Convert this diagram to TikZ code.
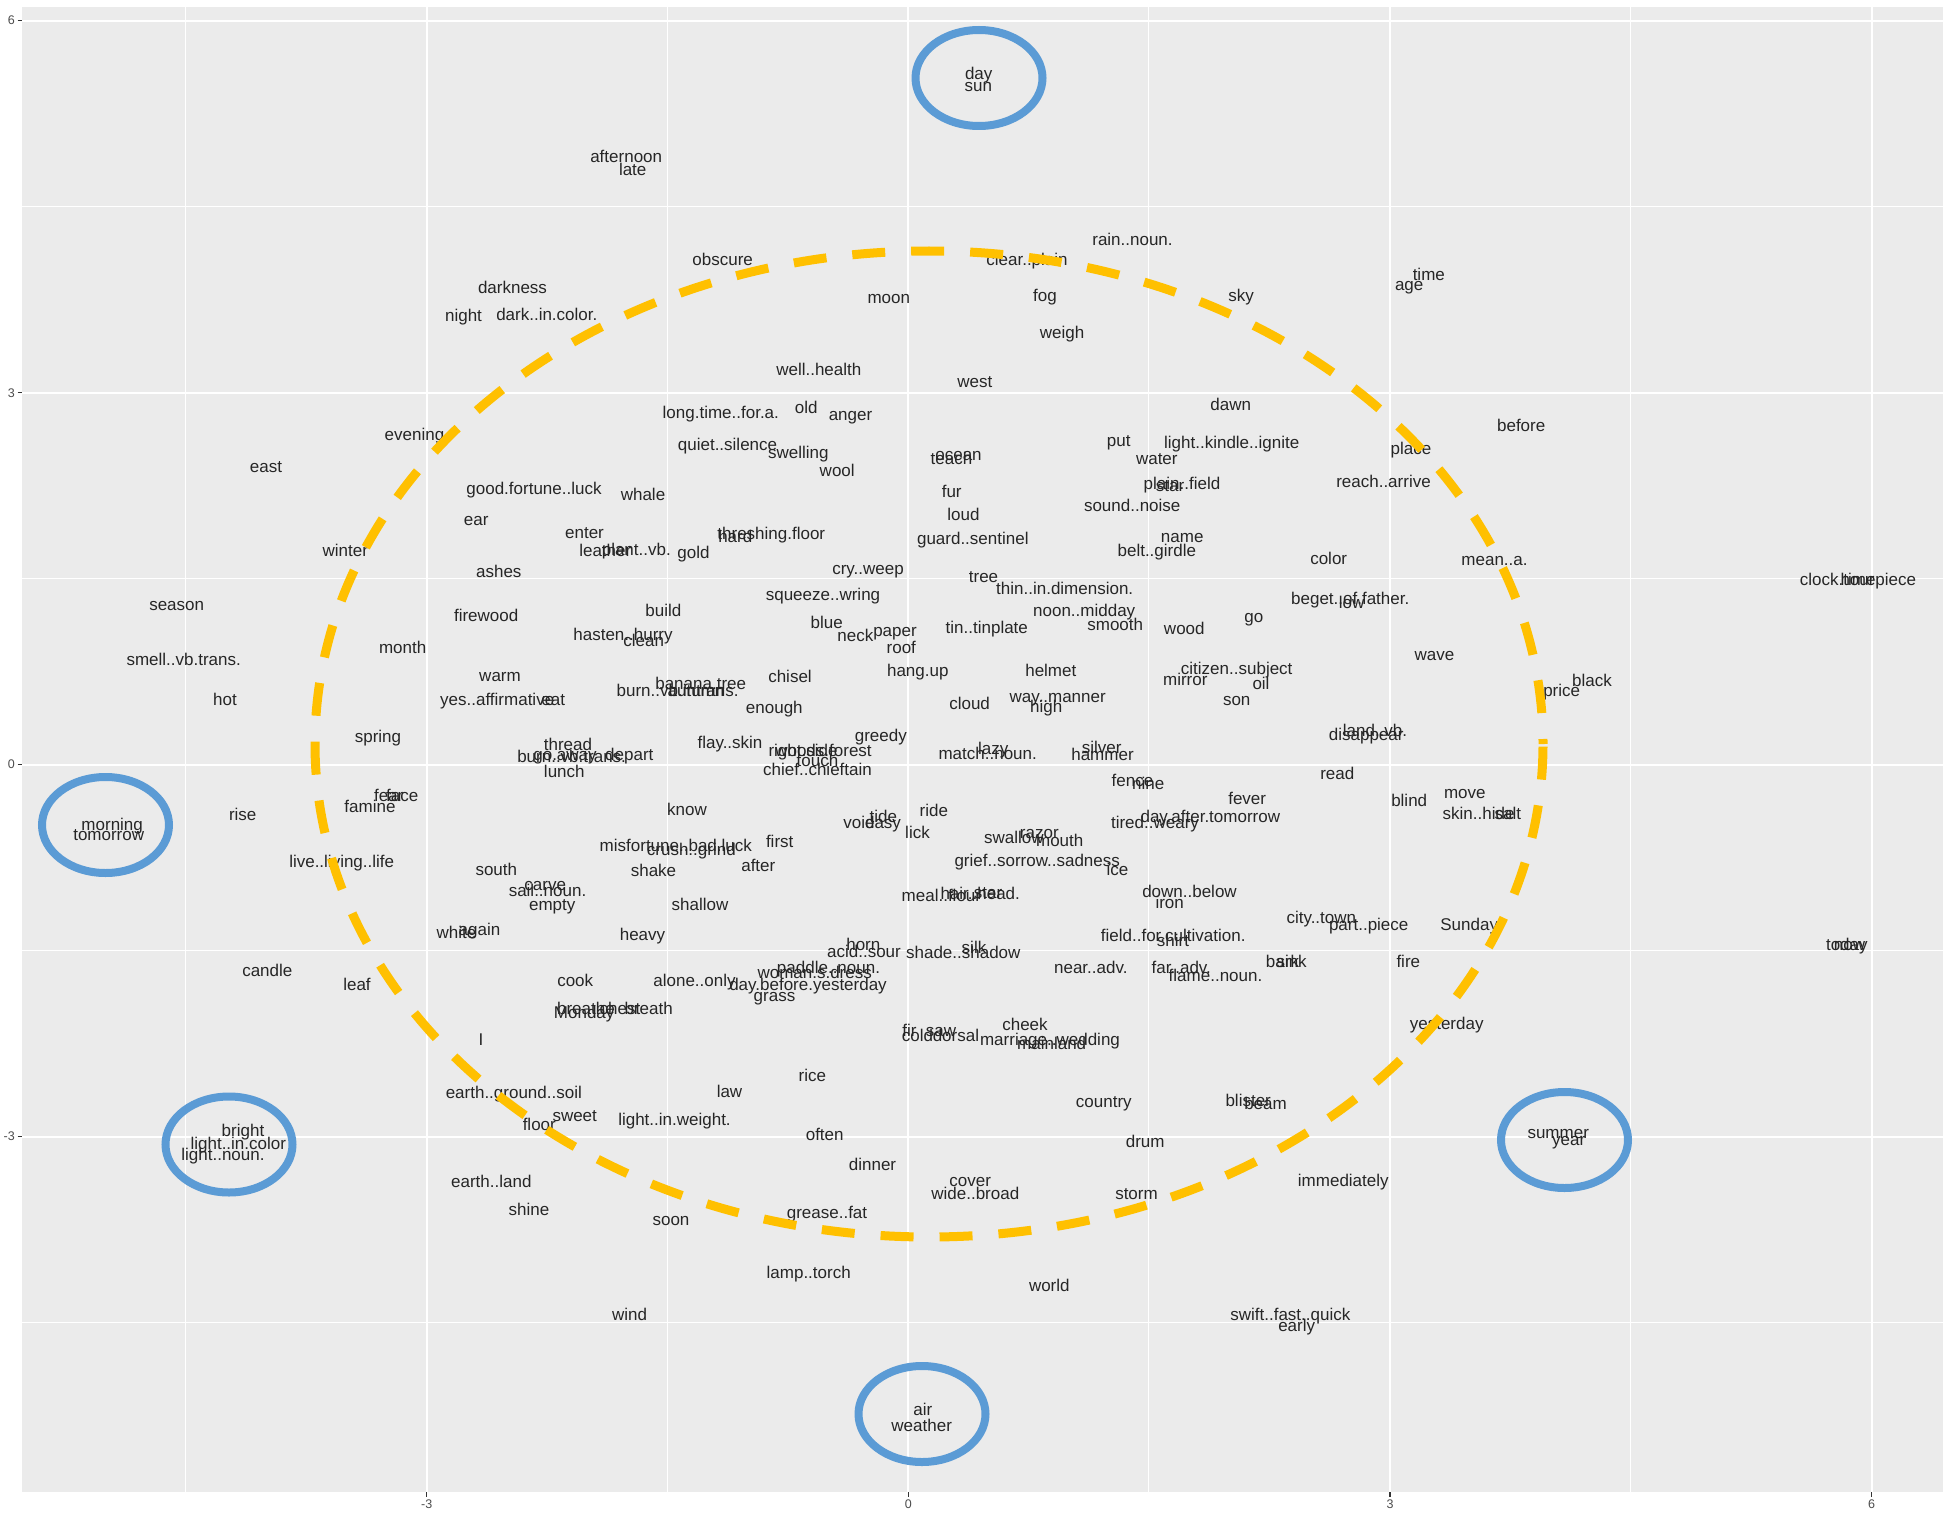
\documentclass[tikz,border=0pt]{standalone}
\usepackage{fontspec}
\setmainfont{Liberation Sans}
\definecolor{panelgray}{HTML}{EBEBEB}
\definecolor{ringorange}{HTML}{FFC000}
\definecolor{haloblue}{HTML}{5B9BD5}
\definecolor{axisgray}{HTML}{4D4D4D}
\definecolor{tickgray}{HTML}{333333}
\begin{document}
\begin{tikzpicture}[x=1pt,y=-1pt,
  wd/.style={anchor=base,inner sep=0pt,font=\fontsize{17}{20}\selectfont,text=black!85},
  ticklab/.style={inner sep=0pt,font=\fontsize{12.5}{14}\selectfont,text=axisgray},
  majorgrid/.style={white,line width=2pt},
  minorgrid/.style={white,line width=1pt},
  tickmark/.style={tickgray,line width=1.1pt},
  ring/.style={draw=ringorange,line width=9pt,dash pattern=on 33pt off 26pt,dash phase=28pt},
  halo/.style={draw=haloblue,line width=8pt}]
\useasboundingbox (0,0) rectangle (1943,1514);
\fill[white] (0,0) rectangle (1943,1514);
% plotting panel
\fill[panelgray] (22,7) rectangle (1943,1492);
\foreach \gx in {185.3,667.7,1148.3,1630.7} \draw[minorgrid] (\gx,7) -- (\gx,1492);
\foreach \gy in {206.5,578.5,950.5,1322.5} \draw[minorgrid] (22,\gy) -- (1943,\gy);
\foreach \gx in {426.7,908.3,1390,1871.7} \draw[majorgrid] (\gx,7) -- (\gx,1492);
\foreach \gy in {20.7,392.7,764.5,1136.5} \draw[majorgrid] (22,\gy) -- (1943,\gy);
% axes
\foreach \gy/\lab [count=\i] in {20.7/6,392.7/3,764.5/0,1136.5/-3} {
  \draw[tickmark] (17.5,\gy) -- (22,\gy);
  \node[ticklab,anchor=east] (ylab\i) at (15,\gy) {\lab};
}
\foreach \gx/\lab [count=\i] in {426.7/-3,908.3/0,1390/3,1871.7/6} {
  \draw[tickmark] (\gx,1492) -- (\gx,1496.5);
  \node[ticklab,anchor=north] (xlab\i) at (\gx,1499.5) {\lab};
}
% word labels
\foreach \px/\py/\t [count=\i] in {
626.2/163/afternoon, 632.7/176/late, 978.7/80/day, 978.3/91.7/sun,
722.7/266/obscure, 512.5/294/darkness, 463.5/321.5/night, 546.8/320/dark..in.color.,
888.8/303.3/moon, 1027/265.7/clear..plain, 1132.5/246/rain..noun., 1045/301.7/fog,
1062/338.3/weigh, 1241.2/301.7/sky, 1428.8/281/time, 1409.2/290.7/age,
818.8/375.7/well..health, 974.8/387.3/west, 1230.7/410/dawn, 720.8/418.3/long.time..for.a.,
806.2/413.3/old, 850.5/420.7/anger, 414.5/440.7/evening, 1118.7/446.7/put,
1231.7/448.3/light..kindle..ignite, 1521.2/431/before, 1411/454/place, 727.5/450/quiet..silence,
798.3/458.3/swelling, 958.5/460/ocean, 951.5/464/teach, 1156.8/464.3/water,
266/472.7/east, 837.2/476.7/wool, 534/494.3/good.fortune..luck, 643/500/whale,
1182/489.3/plain..field, 1170/491/star, 1383.5/487.3/reach..arrive, 951.7/497.3/fur,
1132.2/511/sound..noise, 963.5/520/loud, 476.2/525/ear, 584.5/538.3/enter,
771.3/539.3/threshing.floor, 735.3/542.7/hard, 972.8/544.3/guard..sentinel, 1182.2/542.7/name,
1156.8/556.7/belt..girdle, 605.3/556.7/leather, 636.3/555/plant..vb., 693.5/558.3/gold,
345.3/556.7/winter, 498.8/577.3/ashes, 1328.7/564/color, 1494.5/565/mean..a.,
868/574/cry..weep, 983.5/582.7/tree, 1064.7/594.3/thin..in.dimension., 1858/585/clock.timepiece,
1857.5/585/hour, 176.7/610/season, 823/600/squeeze..wring, 1350.2/604/beget..of.father.,
1351.7/608.3/low, 486.2/621.7/firewood, 663.3/616.7/build, 1084.2/616.7/noon..midday,
826.7/628.3/blue, 1115.2/630/smooth, 1253.8/622.3/go, 1184.3/634/wood,
623/640/hasten..hurry, 895/636/paper, 855.3/641.7/neck, 643.7/646.7/clean,
986.8/633.3/tin..tinplate, 402.7/653.3/month, 901.3/653.3/roof, 1434.5/660.7/wave,
183.7/665/smell..vb.trans., 500/681.7/warm, 917.8/676.7/hang.up, 1050.8/676.7/helmet,
1236.7/674.3/citizen..subject, 790/682.7/chisel, 700.7/689.3/banana.tree, 1185.3/685.7/mirror,
1592/686.7/black, 677.6/696.7/burn..vb.intrans., 696/696.7/autumn, 1261/689.3/oil,
225/705.7/hot, 497.2/705.7/yes..affirmative, 553.3/705.7/eat, 969.6/709.3/cloud,
1057.7/702.3/way..manner, 1046.2/712.3/high, 1236.7/705/son, 1561.7/696/price,
774.3/713.3/enough, 378/742.7/spring, 568/750.7/thread, 730/748.3/flay..skin,
880.8/741.7/greedy, 803/756/right.side, 823.5/756/woods.forest, 1375/736.7/land..vb.,
1366.2/740.7/disappear, 565/760.7/go.away, 571.6/762.7/burn..vb.trans., 629.3/760.7/depart,
993.3/754/lazy, 987.7/759.3/match..noun., 1101.7/753.3/silver, 1102.5/760.7/hammer,
817.5/766.7/touch, 817.5/775/chief..chieftain, 564.3/777.3/lunch, 1337.3/779.3/read,
1132.5/786/fence, 1148.3/789.3/nine, 388.7/801.7/fear, 402.2/801.7/face,
370/812.3/famine, 1409.2/806/blind, 1464.8/798.3/move, 1247.2/804/fever,
112.2/830/morning, 108.7/840.7/tomorrow, 242.7/820.7/rise, 687/815/know,
933.8/816/ride, 883.3/822.7/tide, 859/828.3/void, 883/828.3/easy,
1155/828.3/tired..weary, 1210.3/822.7/day.after.tomorrow, 1478.6/819.3/skin..hide, 1507.8/819.3/salt,
917.5/838.3/lick, 1039.3/838.3/razor, 1013.8/843.3/swallow, 1059.7/846.7/mouth,
675.8/851/misfortune..bad.luck, 691.3/855/crush..grind, 779.7/847.7/first, 341.7/867.3/live..living..life,
1037.2/866.7/grief..sorrow..sadness, 758.3/871.7/after, 496.3/875.7/south, 653.5/876.7/shake,
1117.5/875/ice, 545.2/890.7/carve, 547.5/896.7/sail..noun., 980.2/899/hair..head.,
988/898/star, 941.4/901.7/meal..flour, 1189.5/897.7/down..below,
552.2/910/empty, 700/910/shallow, 1169.7/908.3/iron, 1321.3/923.3/city..town,
1368.7/930/part..piece, 1469.2/930.7/Sunday, 456.5/938.3/white, 479.5/935/again,
642.5/940.7/heavy, 863.3/950.7/horn, 974/953.3/silk, 1173.2/941.7/field..for.cultivation.,
1173/946/shirt, 864/957.3/acid..sour, 963.3/958.3/shade..shadow, 1846.8/950.7/today,
1849.5/950.7/now, 267.3/976.7/candle, 828.5/973.3/paddle..noun., 1090.8/973.3/near..adv.,
1181.3/973.3/far..adv., 1282.5/967.7/bark, 1291.6/967.7/sink, 1408.3/967.7/fire,
357/990/leaf, 575.2/986.7/cook, 694.5/986.7/alone..only, 814.7/978.3/woman.s.dress,
808/990/day.before.yesterday, 1215.5/981.7/flame..noun., 774.5/1001.7/grass, 584.2/1018.3/Monday,
585.9/1014/breathe, 620/1014/chest, 648.6/1014/breath, 1025/1030.7/cheek,
909.5/1036/fir, 941/1036/saw, 917.5/1041/cold, 955.9/1041/dorsal, 1050/1045/marriage..wedding,
1051.7/1049.3/mainland, 481/1045/I, 1446.7/1029.3/yesterday, 812.3/1081/rice,
513.8/1098.7/earth..ground..soil, 729.5/1097.3/law, 1103.8/1107.3/country, 1248.2/1106/blister,
1265.5/1109.3/beam, 243/1136.7/bright, 238.3/1149/light..in.color, 223/1160/light..noun.,
574.7/1121.7/sweet, 539.3/1130/floor, 674.5/1125/light..in.weight., 824.7/1140.7/often,
1558.2/1138.3/summer, 1568.7/1145.7/year, 1145.2/1147.7/drum, 872.5/1170.7/dinner,
970.2/1186/cover, 491.3/1187.7/earth..land, 975.3/1199/wide..broad, 1136.5/1199/storm,
1343.3/1186/immediately, 529/1215/shine, 827/1218.3/grease..fat, 671/1225/soon,
808.7/1278.3/lamp..torch, 1049.3/1291.7/world, 629.5/1320.7/wind, 1290.3/1320.7/swift..fast..quick,
1296.7/1331.7/early, 922.8/1415/air, 921.7/1431.7/weather}
  \node[wd] (w\i) at (\px,\py) {\t};
% highlighted region and clusters
\draw[ring] (929,744) ellipse [x radius=614pt, y radius=493pt];
\draw[halo] (979,78) ellipse [x radius=63.5pt, y radius=48pt];
\draw[halo] (105.5,825) ellipse [x radius=63.5pt, y radius=48pt];
\draw[halo] (229,1144.5) ellipse [x radius=63.5pt, y radius=48pt];
\draw[halo] (1564.5,1140) ellipse [x radius=63.5pt, y radius=48pt];
\draw[halo] (922,1414) ellipse [x radius=63.5pt, y radius=48pt];
\end{tikzpicture}
\end{document}
